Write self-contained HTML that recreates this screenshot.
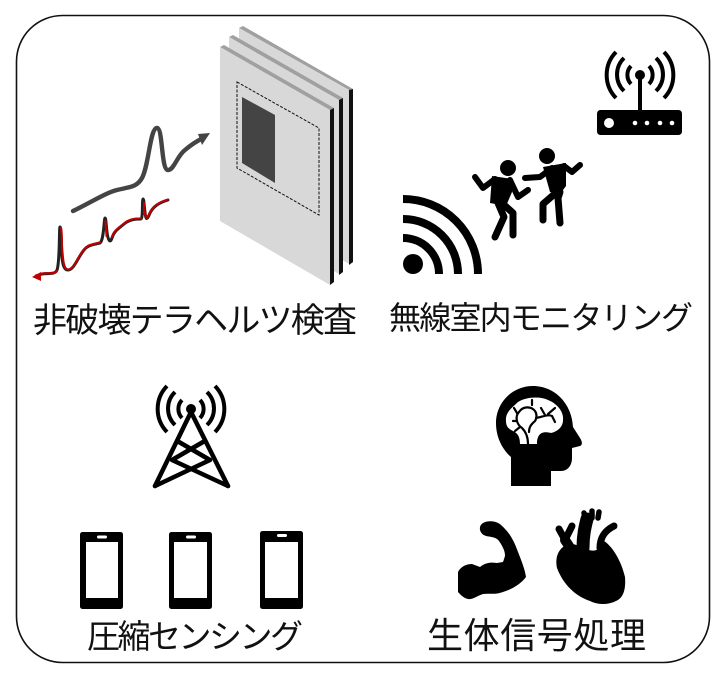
<!DOCTYPE html>
<html lang="ja">
<head>
<meta charset="utf-8">
<style>
html,body{margin:0;padding:0;background:#fff}
svg{display:block}
text{font-family:"Liberation Sans","Noto Sans CJK JP",sans-serif;font-weight:400;fill:#111}
</style>
</head>
<body>
<svg width="728" height="685" viewBox="0 0 728 685" xmlns="http://www.w3.org/2000/svg">
<rect x="16.5" y="15.5" width="693" height="647" rx="46" fill="#fff" stroke="#111" stroke-width="1.6"/>

<!-- panels -->
<polygon points="239,28 243,26 353,89 349,90" fill="#a0a0a0"/>
<polygon points="239,28 349,90 349,264 239,200" fill="#d9d8d9"/>
<polygon points="349,90 353,89 353,262 349,265" fill="#111"/>
<polygon points="229,37 233,35 343,98 339,100" fill="#a0a0a0"/>
<polygon points="229,37 339,100 339,274 229,210" fill="#d9d8d9"/>
<polygon points="339,100 343,98 343,272 339,275" fill="#111"/>
<polygon points="220,47 224,45 334,108 330,110" fill="#a0a0a0"/>
<polygon points="220,47 330,110 330,285 220,221" fill="#d9d8d9"/>
<polygon points="330,110 334,108 334,282 330,285" fill="#111"/>
<polygon points="237,82 319,128 319,215 237,168" fill="none" stroke="#111" stroke-width="1" stroke-dasharray="3 1.5"/>
<polygon points="242,97 275,115 275,183 242,163" fill="#444"/>

<!-- signals -->
<path d="M73,211 C90,203 105,193 117,190 C130,187 137,187 142,178 C149,165 150,128 157,128 C163,128 161,170 168,170 C174,170 177,156 185,150 C192,144 197,141 203,138" fill="none" stroke="#444" stroke-width="4.4" stroke-linecap="round"/>
<polygon points="210,133 198,134 202,145" fill="#444"/>
<path d="M168,200 C158,203 153,207 150,213 C147,220 146,221 145,212 C144,205 144,199 143,199 C142,199 143,219 141,219 C136,219 130,219 124,224 C118,229 114,231 112,238 C110,244 108,240 107,232 C106,224 106,218 105,218 C104,218 104,240 100,243 C92,245 88,245 84,250 C78,257 74,270 68,270 C63,270 62,262 61,245 C61,235 61,227 60,227 C59,227 60,262 57,270 C55,275 48,273 42,274 L36,276" fill="none" stroke="#222" stroke-width="3" stroke-linecap="round"/>
<path d="M168,199.5 C158,202.5 153,206.5 150,212.5 C147,219 146,220 145,212 M141,218.5 C136,218.5 130,218.5 124,223.5 C118,228.5 114,230.5 112,237 M100,242.5 C92,244.5 88,244.5 84,249.5 C78,256.5 74,269.5 68,269.5 C64,269.5 63,262 62,245 C62,235 61.5,230 61,228 M105.5,221 L106.5,236 M144,203 L144,214 M57,271 C55,274.5 48,272.5 42,273.5 L36,275.5" fill="none" stroke="#c00000" stroke-width="2.1" stroke-linecap="round"/>
<polygon points="32,277 41,272 41,281" fill="#c00000"/>

<!-- router -->
<rect x="597" y="110" width="85" height="25" rx="3.5" fill="#000"/>
<circle cx="609" cy="123" r="5" fill="#fff"/>
<circle cx="635" cy="123" r="2.3" fill="#fff"/>
<circle cx="647" cy="123" r="2.3" fill="#fff"/>
<circle cx="660" cy="123" r="2.3" fill="#fff"/>
<circle cx="672" cy="123" r="2.3" fill="#fff"/>
<rect x="638" y="75" width="4" height="36" fill="#000"/>
<circle cx="640" cy="75" r="5" fill="#000"/>
<g fill="none" stroke="#000" stroke-width="4">
<path d="M631,66 A13,13 0 0 0 631,84"/><path d="M649,66 A13,13 0 0 1 649,84"/>
<path d="M624,58 A23,23 0 0 0 624,91"/><path d="M656,58 A23,23 0 0 1 656,91"/>
<path d="M616,52 A33,33 0 0 0 616,98"/><path d="M664,52 A33,33 0 0 1 664,98"/>
</g>

<!-- wifi -->
<circle cx="413" cy="264" r="10" fill="#000"/>
<g fill="none" stroke="#000" stroke-width="8">
<path d="M403,199 A75,75 0 0 1 478,274"/>
<path d="M403,219 A55,55 0 0 1 458,274"/>
<path d="M403,238 A36,36 0 0 1 439,274"/>
</g>

<!-- people -->
<circle cx="508" cy="168" r="8" fill="#000"/>
<circle cx="547" cy="156" r="8" fill="#000"/>
<polygon points="492,176 512,179 512,192 506,206 490,203" fill="#000"/>
<polygon points="543,167 566,163 566,186 560,194 550,192" fill="#000"/>
<g fill="none" stroke="#000" stroke-linecap="round" stroke-linejoin="round">
<path d="M475,177 L483,188 L495,179" stroke-width="6"/>
<path d="M510,180 L518,197 L528,190" stroke-width="6"/>
<path d="M498,203 L504,217 L495,237" stroke-width="7"/>
<path d="M503,204 L513,213 L513,235" stroke-width="7"/>
<path d="M525,178 L540,177 L552,168" stroke-width="6"/>
<path d="M564,166 L572,172 L580,165" stroke-width="6"/>
<path d="M558,191 L543,204 L543,220" stroke-width="7"/>
<path d="M560,192 L558,198 L560,223" stroke-width="7"/>
</g>

<!-- tower -->
<circle cx="191" cy="409" r="5" fill="#000"/>
<g fill="none" stroke="#000" stroke-width="4.5" stroke-linecap="round" stroke-linejoin="round">
<path d="M155,486 L191,412 L228,486"/>
<path d="M179,442 L210,460 L155,486"/>
<path d="M203,442 L172,460 L228,486"/>
</g>
<g fill="none" stroke="#000" stroke-width="4">
<path d="M182,400 A13,13 0 0 0 182,418"/><path d="M200,400 A13,13 0 0 1 200,418"/>
<path d="M175,392 A23,23 0 0 0 175,425"/><path d="M207,392 A23,23 0 0 1 207,425"/>
<path d="M167,386 A33,33 0 0 0 167,432"/><path d="M215,386 A33,33 0 0 1 215,432"/>
</g>

<!-- phones -->
<g fill="#000">
<rect x="80" y="532" width="43" height="77" rx="2.5"/>
<rect x="169" y="532" width="43" height="77" rx="2.5"/>
<rect x="260" y="531" width="43" height="78" rx="2.5"/>
</g>
<g fill="#fff">
<rect x="86" y="542" width="32" height="56"/>
<rect x="174" y="542" width="33" height="56"/>
<rect x="265" y="542" width="33" height="56"/>
<rect x="97" y="535.5" width="10" height="3" rx="1.5"/>
<rect x="186" y="535.5" width="10" height="3" rx="1.5"/>
<rect x="277" y="534" width="10" height="3" rx="1.5"/>
</g>

<!-- head + brain -->
<path d="M511,486 L551,486 L551,471 L561,471 C568,471 572,465 572,458 L572,448 L580,446 C583,445 582,441 580,438 L573,427 C572,404 555,386 533,386 C512,386 496,403 496,423 C496,437 502,449 511,457 Z" fill="#000"/>
<path d="M506,421 C505,412 513,407 518,402 C526,397 540,396 548,400 C556,403 564,411 563,420 C563,428 556,432 551,433 C540,430 537,436 537,444 L520,444 C520,436 517,433 513,431 C509,429 506,427 506,421 Z" fill="#fff"/>
<g fill="none" stroke="#000" stroke-width="2.2" stroke-linecap="round">
<path d="M528,444 C528,436 525,431 522,428 C516,424 515,416 519,412 C523,406 531,406 535,411 C537,414 537,418 535,421 C532,424 529,426 529,432"/>
<path d="M517,413 L514,408 M517,421 L513,421 M520,427 L515,431"/>
<path d="M536,418 C542,417 548,414 552,416 L555,422 M545,415 L541,408 M548,414 L555,408 M532,405 L532,400"/>
</g>

<!-- arm -->
<path d="M458,572 C461,566 467,564 472,564 L480,567 C485,563 490,562 497,563 L503,562 L505,556 C505,551 503,547 499,541 C496,537 491,537 486,536 C479,534 478,526 483,523 C488,520 497,521 501,525 C510,533 514,541 518,552 C522,562 525,570 526,577 C520,585 510,590 503,592 C495,595 489,593 483,594 C477,596 472,600 468,599 C463,598 460,594 458,592 Z" fill="#000"/>

<!-- heart -->
<path d="M563,547 C568,542 574,544 579,546 C590,551 598,555 604,541 C612,546 621,560 625,577 C626,590 623,598 616,601 C608,605 598,605 590,601 C575,596 563,584 557,568 C555,558 558,551 563,547 Z" fill="#000"/>
<g fill="none" stroke="#000" stroke-linecap="round" stroke-linejoin="round">
<path d="M583,548 C583,535 585,527 587,519" stroke-width="13"/>
<path d="M585,518 L584,513 M592,518 L592,511 M598,518 L599,512" stroke-width="5.5"/>
<path d="M559,529 L565,540 L572,526" stroke-width="7"/>
<path d="M565,540 L569,546" stroke-width="10"/>
<path d="M600,548 C600,536 606,530 614,526" stroke-width="7"/>
</g>

<!-- labels -->
<text x="33" y="332" font-size="34" textLength="324" lengthAdjust="spacing">非破壊テラヘルツ検査</text>
<text x="389" y="329" font-size="32" textLength="304" lengthAdjust="spacing">無線室内モニタリング</text>
<text x="87" y="648" font-size="33" textLength="216" lengthAdjust="spacing">圧縮センシング</text>
<text x="427" y="648" font-size="36" textLength="219" lengthAdjust="spacing">生体信号処理</text>
</svg>
</body>
</html>
